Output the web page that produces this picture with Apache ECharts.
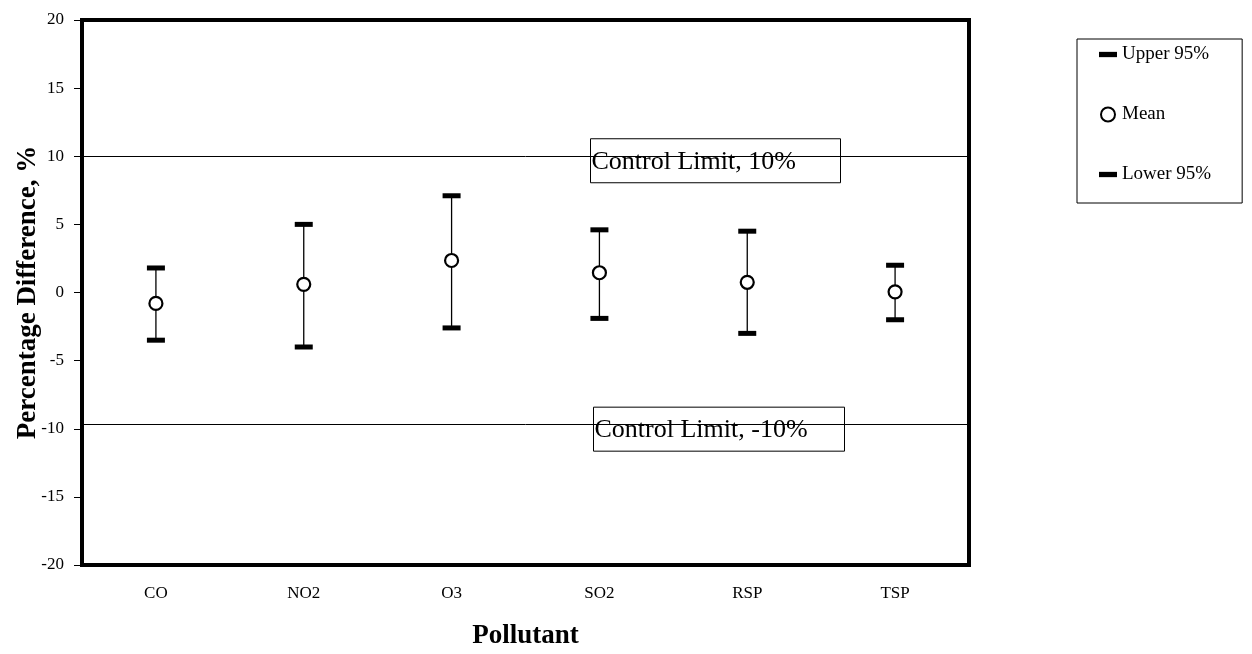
<!DOCTYPE html>
<html>
  <head>
    <meta charset="utf-8" />
    <title>Percentage Difference</title>
    <script src="https://cdn.jsdelivr.net/npm/echarts@6/dist/echarts.min.js"></script>
  </head>
  <body style="margin: 0">
    <div id="main" style="width: 1252px; height: 654px"></div>
    <script>
      // data
      var pollutants = ["CO", "NO2", "O3", "SO2", "RSP", "TSP"];
      var upper95 = [1.8, 5.0, 7.1, 4.6, 4.5, 2.0];
      var mean = [-0.8, 0.6, 2.35, 1.45, 0.75, 0.05];
      var lower95 = [-3.5, -4.0, -2.6, -1.9, -3.0, -2.0];
      var controlLimits = [10, -9.7];
      var controlLabels = ["Control Limit, 10%", "Control Limit, -10%"];

      var FONT = "Liberation Serif";
      var capIcon = "path://M0,0h17v5h-17z";

      var whiskers = pollutants.map(function (p, i) {
        return [i, lower95[i], upper95[i]];
      });

      var chart = echarts.init(document.getElementById("main"));

      var option = {
        backgroundColor: "#fff",
        animation: false,
        grid: {
          left: 82,
          right: 283,
          top: 20,
          bottom: 89,
          outerBoundsMode: "none",
          containLabel: false,
          show: true,
          borderColor: "#000",
          borderWidth: 4,
        },
        legend: {
          orient: "vertical",
          left: 1077,
          top: 39,
          padding: [6, 31, 19, 22],
          itemGap: 41,
          itemWidth: 18,
          itemHeight: 14,
          borderColor: "#000",
          borderWidth: 1,
          textStyle: { fontFamily: FONT, fontSize: 19, color: "#000" },
          data: [
            { name: "Upper 95%", icon: capIcon },
            { name: "Mean", icon: "circle" },
            { name: "Lower 95%", icon: capIcon },
          ],
        },
        xAxis: {
          type: "category",
          data: pollutants,
          boundaryGap: true,
          name: "Pollutant",
          nameLocation: "middle",
          nameGap: 58,
          nameTextStyle: {
            fontFamily: FONT,
            fontSize: 27,
            fontWeight: "bold",
            color: "#000",
          },
          axisLine: { show: false },
          axisTick: {
            inside: true,
            length: 6,
            lineStyle: { color: "#000", width: 1 },
          },
          axisLabel: {
            margin: 20,
            fontFamily: FONT,
            fontSize: 17,
            color: "#000",
          },
          splitLine: { show: false },
        },
        yAxis: {
          type: "value",
          min: -20,
          max: 20,
          interval: 5,
          name: "Percentage Difference, %",
          nameLocation: "middle",
          nameGap: 40,
          nameMoveOverlap: false,
          nameTextStyle: {
            fontFamily: FONT,
            fontSize: 27,
            fontWeight: "bold",
            color: "#000",
          },
          axisLine: { show: false },
          axisTick: {
            show: true,
            length: 8,
            lineStyle: { color: "#000", width: 1 },
          },
          axisLabel: {
            margin: 18,
            fontFamily: FONT,
            fontSize: 17,
            color: "#000",
          },
          splitLine: { show: false },
        },
        series: [
          {
            name: "whisker",
            type: "custom",
            z: 1,
            data: whiskers,
            renderItem: function (params, api) {
              var lo = api.coord([api.value(0), api.value(1)]);
              var hi = api.coord([api.value(0), api.value(2)]);
              return {
                type: "line",
                shape: { x1: lo[0], y1: lo[1], x2: hi[0], y2: hi[1] },
                style: { stroke: "#000", lineWidth: 1.3 },
              };
            },
            markLine: {
              silent: true,
              symbol: "none",
              label: { show: false },
              lineStyle: { color: "#000", width: 1, type: "solid" },
              data: controlLimits.map(function (v) {
                return { yAxis: v };
              }),
            },
          },
          {
            name: "Upper 95%",
            type: "scatter",
            z: 3,
            symbol: "rect",
            symbolSize: [18, 5],
            itemStyle: { color: "#000", opacity: 1 },
            data: upper95,
          },
          {
            name: "Lower 95%",
            type: "scatter",
            z: 3,
            symbol: "rect",
            symbolSize: [18, 5],
            itemStyle: { color: "#000", opacity: 1 },
            data: lower95,
          },
          {
            name: "Mean",
            type: "scatter",
            z: 4,
            symbol: "circle",
            symbolSize: 13,
            itemStyle: {
              color: "#fff",
              borderColor: "#000",
              borderWidth: 2.2,
              opacity: 1,
            },
            data: mean,
          },
        ],
      };

      chart.setOption(option);

      // text boxes sitting on the control limit lines
      var boxLeft = [590, 593];
      var boxWidth = [250, 251];
      var graphics = controlLimits.map(function (v, i) {
        var y = chart.convertToPixel({ yAxisIndex: 0 }, v);
        return {
          type: "group",
          left: boxLeft[i],
          top: y - 18,
          z: 10,
          children: [
            {
              type: "rect",
              shape: { x: 0, y: 0, width: boxWidth[i], height: 44 },
              style: { fill: "#fff", stroke: "#000", lineWidth: 1 },
            },
            {
              type: "text",
              x: 1,
              y: 23,
              style: {
                text: controlLabels[i],
                fontFamily: FONT,
                fontSize: 26,
                fill: "#000",
                verticalAlign: "middle",
              },
            },
          ],
        };
      });
      chart.setOption({ graphic: graphics });
    </script>
  </body>
</html>
